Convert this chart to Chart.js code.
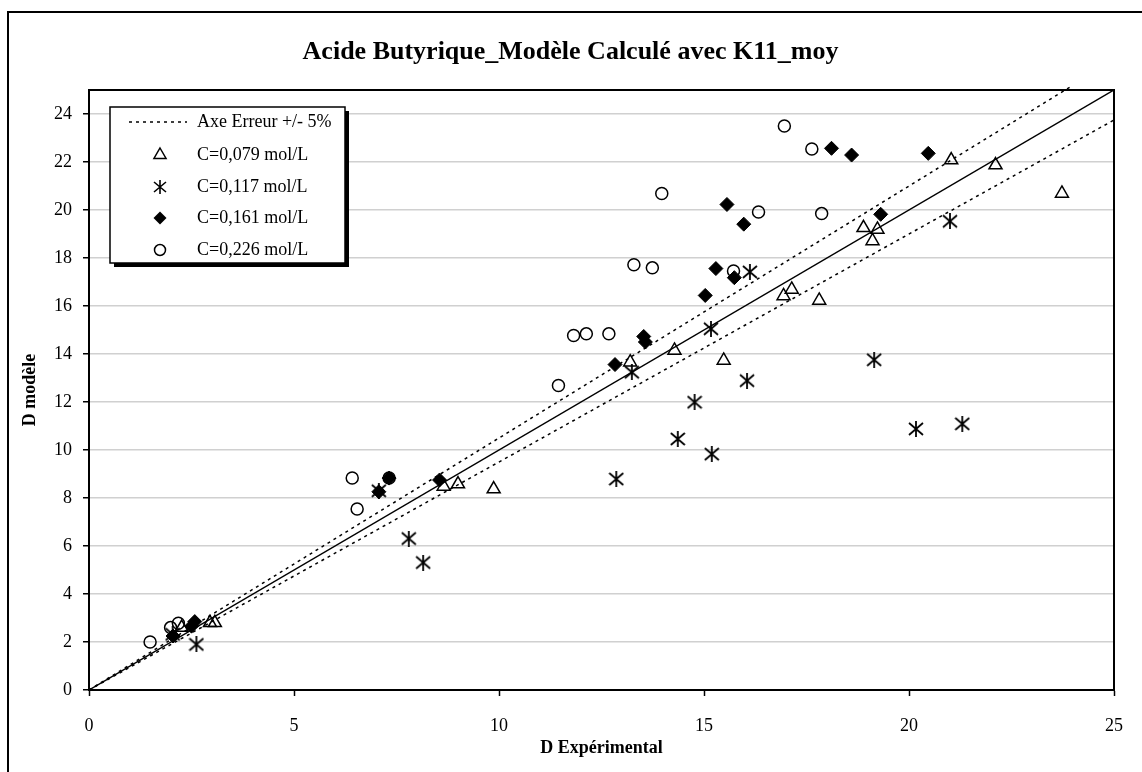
<!DOCTYPE html>
<html><head><meta charset="utf-8">
<script src="https://cdn.jsdelivr.net/npm/chart.js@4.4.1/dist/chart.umd.min.js"></script>
<style>html,body{margin:0;padding:0;background:#fff;} #wrap{width:1142px;height:772px;position:relative;}</style>
</head><body><div id="wrap"><canvas id="c" width="1142" height="772"></canvas></div>
<script>
const chartTitle = 'Acide Butyrique_Modèle Calculé avec K11_moy';
const xAxisTitle = 'D Expérimental';
const yAxisTitle = 'D modèle';
const xTickValues = [0, 5, 10, 15, 20, 25];
const yTickValues = [0, 2, 4, 6, 8, 10, 12, 14, 16, 18, 20, 22, 24];
const legendErrLabel = 'Axe Erreur +/- 5%';
const seriesNames = ['C=0,079 mol/L', 'C=0,117 mol/L', 'C=0,161 mol/L', 'C=0,226 mol/L'];

// C=0,079 mol/L (triangles)
const c079X = [2.26, 2.95, 3.07, 8.65, 9.0, 9.87, 13.2, 14.28, 15.48, 16.94, 17.14, 17.81, 18.89, 19.23, 19.11, 21.03, 22.11, 23.73];
const c079Y = [2.6, 2.8, 2.8, 8.48, 8.58, 8.37, 13.66, 14.15, 13.73, 16.42, 16.69, 16.23, 19.26, 19.19, 18.71, 22.08, 21.87, 20.69];
// C=0,117 mol/L (stars)
const c117X = [2.04, 2.62, 7.07, 7.8, 8.15, 12.86, 13.24, 14.36, 14.77, 15.19, 15.17, 16.05, 16.12, 19.15, 20.17, 21.0, 21.3];
const c117Y = [2.32, 1.9, 8.3, 6.31, 5.31, 8.79, 13.24, 10.46, 11.99, 9.83, 15.05, 12.89, 17.42, 13.76, 10.88, 19.53, 11.09];
// C=0,161 mol/L (diamonds)
const c161X = [2.05, 2.5, 2.58, 7.07, 7.32, 8.55, 12.83, 13.53, 13.57, 15.03, 15.29, 15.56, 15.74, 15.97, 18.11, 18.6, 19.31, 20.47];
const c161Y = [2.25, 2.66, 2.85, 8.26, 8.83, 8.75, 13.56, 14.73, 14.5, 16.44, 17.56, 20.23, 17.18, 19.41, 22.57, 22.29, 19.82, 22.36];
// C=0,226 mol/L (circles)
const c226X = [1.49, 1.99, 2.18, 6.42, 6.54, 7.32, 11.45, 11.82, 12.13, 12.68, 13.29, 13.74, 13.97, 15.72, 16.33, 16.96, 17.63, 17.87];
const c226Y = [2.0, 2.6, 2.78, 8.83, 7.54, 8.83, 12.69, 14.77, 14.84, 14.84, 17.72, 17.59, 20.69, 17.46, 19.92, 23.5, 22.54, 19.85];

// reference lines
const diagX = [0, 25], diagY = [0, 25];
const errUpX = [0, 24], errUpY = [0, 25.2];
const errLowX = [0, 25], errLowY = [0, 23.75];

const zip = (xs, ys) => xs.map((x, i) => ({x: x, y: ys[i]}));

function makeStar(size, lw) {
  const cv = document.createElement('canvas');
  cv.width = size; cv.height = size;
  const g = cv.getContext('2d');
  const h = size / 2;
  g.strokeStyle = '#000'; g.lineWidth = lw; g.lineCap = 'butt';
  g.beginPath();
  g.moveTo(h, 0); g.lineTo(h, size);
  g.moveTo(1, 2); g.lineTo(size - 1, size - 2);
  g.moveTo(size - 1, 2); g.lineTo(1, size - 2);
  g.stroke();
  return cv;
}
const starImg = makeStar(16, 1.8);
const starLegend = makeStar(14, 1.6);

const FONT = 'Liberation Serif';

const framePlugin = {
  id: 'frame',
  beforeDraw(chart) {
    const ctx = chart.ctx;
    ctx.save();
    ctx.fillStyle = '#fff';
    ctx.fillRect(0, 0, chart.width, chart.height);
    ctx.strokeStyle = '#000'; ctx.lineWidth = 2;
    ctx.strokeRect(8, 12, 1300, 900);
    ctx.restore();
  },
  afterDatasetsDraw(chart) {
    const a = chart.chartArea, ctx = chart.ctx;
    ctx.save();
    ctx.strokeStyle = '#000'; ctx.lineWidth = 2;
    ctx.beginPath();
    ctx.moveTo(a.left, a.top); ctx.lineTo(a.right, a.top); ctx.lineTo(a.right, a.bottom);
    ctx.stroke();
    ctx.restore();
  },
  afterDraw(chart) {
    const a = chart.chartArea, ctx = chart.ctx;
    const L = a.left + 21, T = a.top + 17, W = 235, H = 156;
    ctx.save();
    ctx.fillStyle = '#000';
    ctx.fillRect(L + 4, T + 4, W, H);
    ctx.fillStyle = '#fff';
    ctx.fillRect(L, T, W, H);
    ctx.strokeStyle = '#000'; ctx.lineWidth = 1.5;
    ctx.strokeRect(L, T, W, H);
    const tx = L + 87, mx = L + 50;
    const rows = [T + 15, T + 48, T + 80, T + 111, T + 143];
    ctx.font = '18px "' + FONT + '"';
    ctx.fillStyle = '#000';
    ctx.textBaseline = 'middle';
    ctx.textAlign = 'left';
    // error line sample
    ctx.setLineDash([3, 4]); ctx.lineWidth = 1.5;
    ctx.beginPath(); ctx.moveTo(L + 19, rows[0]); ctx.lineTo(L + 77, rows[0]); ctx.stroke();
    ctx.setLineDash([]);
    ctx.fillText(legendErrLabel, tx, rows[0]);
    // triangle
    let y = rows[1], r = 7;
    ctx.beginPath();
    ctx.moveTo(mx, y - r); ctx.lineTo(mx + r * 0.866, y + r * 0.5); ctx.lineTo(mx - r * 0.866, y + r * 0.5); ctx.closePath();
    ctx.lineWidth = 1.5; ctx.stroke();
    ctx.fillText(seriesNames[0], tx, rows[1]);
    // star
    ctx.drawImage(starLegend, mx - 7, rows[2] - 7);
    ctx.fillText(seriesNames[1], tx, rows[2]);
    // diamond
    y = rows[3]; r = 6.5;
    ctx.beginPath();
    ctx.moveTo(mx, y - r); ctx.lineTo(mx + r, y); ctx.lineTo(mx, y + r); ctx.lineTo(mx - r, y); ctx.closePath();
    ctx.fill();
    ctx.fillText(seriesNames[2], tx, rows[3]);
    // circle
    ctx.beginPath(); ctx.arc(mx, rows[4], 5.5, 0, Math.PI * 2); ctx.lineWidth = 1.5; ctx.stroke();
    ctx.fillText(seriesNames[3], tx, rows[4]);
    ctx.restore();
  }
};

const lineDs = (label, xs, ys, dash, clip) => ({
  label: label, data: zip(xs, ys), showLine: true, pointRadius: 0, borderColor: '#000',
  borderWidth: 1.5, borderDash: dash, fill: false, clip: clip, order: 10
});

new Chart(document.getElementById('c'), {
  type: 'scatter',
  data: {
    datasets: [
      lineDs('y=x', diagX, diagY, [], undefined),
      lineDs(legendErrLabel, errUpX, errUpY, [3, 4], false),
      lineDs(legendErrLabel + ' ', errLowX, errLowY, [3, 4], undefined),
      {label: seriesNames[0], data: zip(c079X, c079Y), pointStyle: 'triangle', pointRadius: 7.5,
       borderColor: '#000', backgroundColor: 'rgba(255,255,255,0)', borderWidth: 1.5, order: 4},
      {label: seriesNames[1], data: zip(c117X, c117Y), pointStyle: starImg, pointRadius: 8,
       borderColor: '#000', backgroundColor: '#000', order: 3},
      {label: seriesNames[2], data: zip(c161X, c161Y), pointStyle: 'rectRot', pointRadius: 7,
       borderColor: '#000', backgroundColor: '#000', borderWidth: 1, order: 2},
      {label: seriesNames[3], data: zip(c226X, c226Y), pointStyle: 'circle', pointRadius: 6,
       borderColor: '#000', backgroundColor: 'rgba(255,255,255,0)', borderWidth: 1.5, order: 1}
    ]
  },
  options: {
    responsive: false,
    animation: false,
    layout: {padding: {left: 26, right: 27, top: 0, bottom: 0}},
    plugins: {
      legend: {display: false},
      tooltip: {enabled: false},
      title: {display: true, text: chartTitle, color: '#000',
        font: {family: FONT, size: 26, weight: 'bold'}, padding: {top: 37, bottom: 21.8}}
    },
    scales: {
      x: {
        type: 'linear', min: 0, max: 25,
        afterBuildTicks: s => { s.ticks = xTickValues.map(v => ({value: v})); },
        afterFit: s => { s.height = 82; },
        ticks: {font: {family: FONT, size: 18}, color: '#000', padding: 19, maxRotation: 0},
        grid: {drawOnChartArea: false, tickLength: 6, tickColor: '#000', tickWidth: 1.5},
        border: {color: '#000', width: 2},
        title: {display: true, text: xAxisTitle, color: '#000',
          font: {family: FONT, size: 18, weight: 'bold'}, padding: {top: 0, bottom: 13}}
      },
      y: {
        type: 'linear', min: 0, max: 25,
        afterBuildTicks: s => { s.ticks = yTickValues.map(v => ({value: v})); },
        afterFit: s => { s.width = 63; },
        ticks: {font: {family: FONT, size: 18}, color: '#000', padding: 11},
        grid: {color: '#d0d0d0', lineWidth: 1.5, tickLength: 6, tickColor: '#000', tickWidth: 1.5},
        border: {color: '#000', width: 2},
        title: {display: true, text: yAxisTitle, color: '#000',
          font: {family: FONT, size: 18, weight: 'bold'}, padding: {top: -6, bottom: 0}}
      }
    }
  },
  plugins: [framePlugin]
});
</script>
</body></html>
